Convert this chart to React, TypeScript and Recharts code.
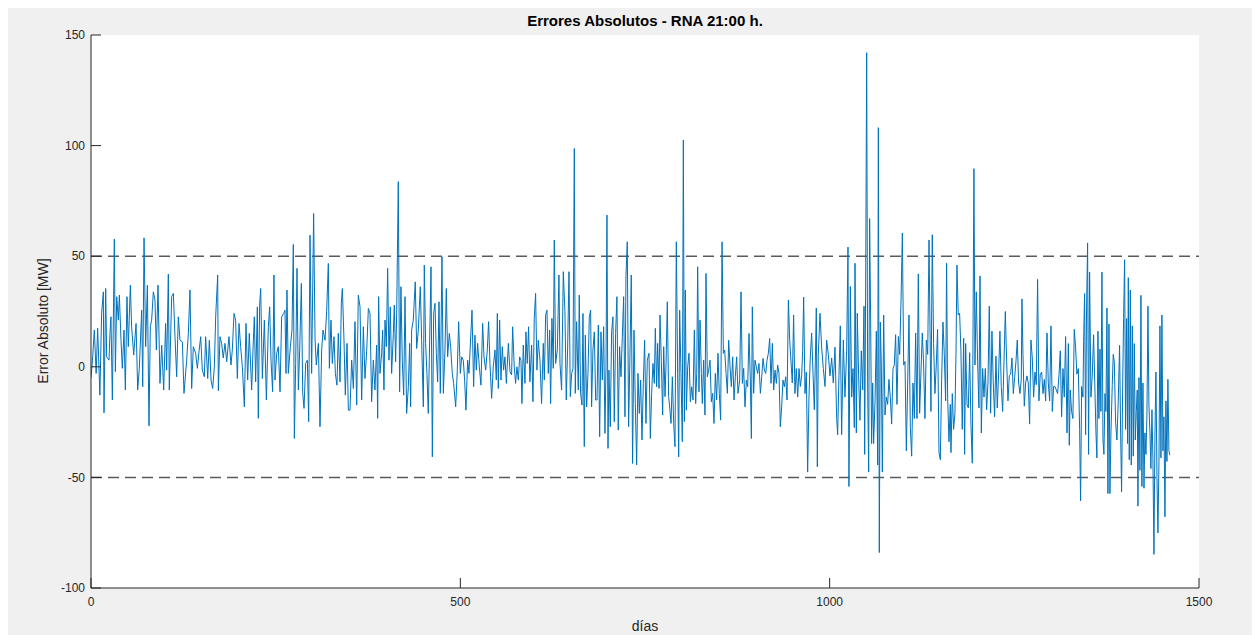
import { LineChart, Line, XAxis, YAxis, CartesianGrid, ReferenceLine } from "recharts";

const xTicks = [0, 500, 1000, 1500];
const yTicks = [-100, -50, 0, 50, 100, 150];
const limits = [50, -50];

// [día, error MW] in stretches of ~190 days
const segA = [
  [0, -5], [2, 3], [4.5, 16.6], [7, -3], [9, 17.4], [12, -12.8], [14.4, 24.1], [16.7, 33.9], [17.6, -20.8],
  [19.9, 35.4], [21.2, 4.5], [24.4, 3], [25.7, 15.1], [27, 22.6], [28.9, -15], [31.6, 57.7], [33, -2.2],
  [34.8, 31.7], [37, 21.1], [38.4, 32.4], [40.6, 12], [42.4, -0.7], [44.7, 16.6], [46.5, -10.5], [48.7, 31.7],
  [50.5, 9.1], [53.3, 36.9], [55, 18.1], [57.8, 5.3], [61, 19.6], [63.2, -10.5], [65.4, -0.7], [68.6, 25.6],
  [70, -9], [71.8, 58.3], [74, 9.1], [76.3, 36.9], [78.5, -26.7], [80.3, 18.1], [82.1, 21.1], [84.4, 33.9],
  [86.6, 30.2], [88.5, 7.6], [90.7, 36.9], [93.4, -7.5], [95.7, 9.8], [98.4, -10.5], [101, 19.6], [102.4, -1.5],
  [104.7, 41.9], [106, -10.5], [109.2, 31.7], [111.5, 33.2], [113.7, 13.6], [116, -4.5], [118.2, 22.6],
  [120.5, 12], [123.7, 11.3], [125.9, -12], [129.5, 3], [131.8, 15.1], [134, 34.7], [136.3, -9.8], [138.5, 9.1],
  [141.7, 6.1], [144, -0.7], [146.2, 6.8], [148.5, 13.6], [150.7, -1.5], [153.4, -4.5], [155.2, 13.6],
  [158, -5.3], [160.2, 12], [162.5, -6], [164.7, -9.8], [167, 0], [168.8, 22.6], [171.5, 41.5], [172.4, -10.8],
  [174.6, 13.6], [176.9, 10.6], [179, 4], [181.4, 10.6], [183.7, 2.3], [186.8, 13.6],
];

const segB = [
  [189.5, 0.8], [191.3, 7.5], [193.6, 24.1], [195.8, 21.1], [198.1, -5.3], [200.4, 19.6], [202.6, 9.1],
  [204.9, 0], [207.6, -18.1], [209.8, 19.6], [212.1, -6], [214.3, 15.1], [217.5, -10.5], [219.8, 12],
  [221.1, 22.6], [222.9, -6.8], [225.2, 27.1], [226.5, -23.3], [228.3, 27.9], [229.7, 35.4], [232, -5.3],
  [234.7, 21.1], [237.4, -15], [240.1, 18.1], [241.9, 27.1], [243.7, 3], [245.9, -11.3], [247.7, 41.5],
  [249.1, -6], [251.4, 6.1], [253.6, 9.1], [255.9, -11.3], [258.1, 22.6], [260.8, 24.1], [262.6, 25.6],
  [264, -3], [265.3, 34.7], [267.1, -3], [269.9, 9.1], [272.1, 16.6], [273.9, 55.3], [275.3, -32.4],
  [277.1, 1.5], [278.9, 44.5], [280.7, -10.5], [282.5, 7.6], [284.8, 37.7], [286.6, -12], [288.4, -18.8],
  [290.6, 1.5], [292.9, 3], [294.7, -24.8], [296.5, 59.5], [298.7, -3], [301.4, 69.3], [303.3, 12.8],
  [305, 0.8], [307.8, 10.6], [310, -27.1], [312.3, 7.6], [314.1, 16.6], [316.8, 12], [319, 24.9],
  [321.3, 46.7], [322.7, -0.7], [324.9, 21.1], [326.7, 1.5], [329, 13.6], [330.8, -3], [333, -8.3],
  [334.8, 15.1], [337.1, -6.8], [338.9, 28.7], [340.3, 35.4], [342.5, 12], [344.3, -12.8], [346.6, 10.6],
  [348.4, -19.6], [350.6, -19.6], [352.9, 3], [355.2, -9.8], [357.4, 20.4], [359.7, -17.3], [361.9, 32.4],
  [364.2, 27.1], [366.4, -15], [368.7, 18.1], [370.9, -5.3], [373.2, 6.8], [375.5, 26.4], [377.7, 24.1],
];

const segC = [
  [379.9, -15.8], [382.2, 3], [384.4, -10.5], [386.7, 9.8], [388.1, -23.3], [389.4, 31.7], [391.2, -3],
  [393.5, 6.1], [394.8, 16.6], [396.6, -10.5], [398, 21.1], [399.8, 9.1], [401.6, 44.5], [403.4, 3],
  [405.2, 27.1], [407, -3], [409.3, 15.1], [410.6, 27.9], [412.4, 2.3], [413.8, 23.4], [416, 83.7],
  [417.8, -11.3], [419.6, 36.2], [421.4, 3], [423.3, -12.8], [425.1, 31.7], [427.3, -21.1], [429.6, -9],
  [431.4, 10.6], [432.7, -18.1], [434.1, 16.6], [436.3, 21.1], [439, 38.4], [440.9, 8.3], [443.1, 16.6],
  [445.8, 36.2], [447.6, 12], [449.9, -18.1], [451.2, 46], [453, 10.6], [454.8, -3], [456.6, -21.1],
  [458, 3], [460.3, 45.2], [462.1, -40.7], [463.9, 24.1], [465.7, 28.7], [467.5, 6.1], [469.3, -6.8],
  [471.1, 29.4], [472.9, -12], [475.1, 49.7], [477, -12], [479.2, 7.6], [481, 35.4], [482.8, 4.5],
  [485.1, 15.1], [486.9, 9.1], [489.1, -3], [490.9, -7.5], [493.7, -18.1], [495.9, -1.5], [497.7, 20.4],
  [500, -3], [501.8, 4.5], [504, 3], [505.8, -6], [507.6, -19.6], [509.9, 3], [511.7, -3], [513.5, 9.8],
  [515.8, 25.6], [518, -9], [519.8, 14.3], [521.6, -1.5], [523.4, 10.6], [525.7, 0], [527.9, -8.3],
  [530.2, 19.6], [532, 4.5], [534.3, -1.5], [536.5, 7.6], [538.3, 20.4], [540.1, 1.5], [542.4, -14.3],
  [544.6, 0], [546.9, 7.6], [548.7, -6], [550.1, 24.1], [551.4, -9.8], [553.2, 21.1], [555, -6],
  [556.8, 9.1], [558.6, -1.5], [560.4, 4.5], [562.3, -7.5], [565, 10.6],
];

const segD = [
  [567.2, -2.2], [569.4, -3.7], [570.8, 18.1], [573, 0], [574.8, -7.5], [576.6, 0], [578.5, -6], [580.3, 4.5],
  [582.1, 3], [583.4, -16.6], [585.2, 9.8], [587.5, -7.5], [588.8, 15.8], [590.6, 1.5], [592.4, 18.1],
  [594.2, -6.8], [596.5, 9.8], [598.3, -15.8], [600.1, 21.9], [601.9, 33.2], [603.7, -1.5], [605.5, 12],
  [607.8, 3], [610, -16.6], [612.3, 10.6], [613.7, -6], [615.5, 23.4], [617.3, 25.6], [619.1, -3],
  [620.9, 16.6], [622.2, -16.6], [624, 21.9], [625.8, -0.7], [627.2, 57.3], [629, 1.5], [631.3, 7.6],
  [633.5, 41.5], [634.9, 1.5], [637.1, -10.5], [639.4, 43], [641.6, 24.9], [643.4, -15], [645.2, 7.6],
  [647.1, 43], [648.9, -13.5], [650.7, -3], [652.5, -0.7], [654.3, 98.7], [655.6, -12], [657.4, 20.4],
  [659.7, -10.5], [661, 32.4], [662.8, -12], [664.7, -17.3], [666, 24.1], [667.8, -36.1], [669.2, 14.3],
  [671, -18.1], [672.8, -3], [674.6, 22.6], [676.4, 25.6], [677.7, -18.1], [679.5, 7.6], [681.4, 15.8],
  [683.2, -15], [685, -15], [686.8, 18.9], [688.6, -31.6], [690.4, 15.8], [692.2, -6], [694, 18.1],
  [695.8, -30.1], [697.2, 0], [698.5, 68.6], [699.9, -36.9], [701.2, -1.5], [703, -27.1], [704.8, 15.8],
  [706.6, 22.6], [708.4, -24.8], [710.2, 15.1], [712, 31.7], [713.8, -28.6], [715.6, 9.1], [717.5, -4.5],
  [719.3, 13.6], [721.1, 31.7], [722.9, -22.6], [724.2, 40.7], [726, 56.5], [727.8, -27.1], [729.6, 4.5],
  [731.4, 41.5], [733.2, -43.7], [735.1, 16.6], [736.9, -16.6], [738.7, -44.4], [740.5, -3], [742.3, -21.1],
  [744.1, -6], [745.9, -33.1], [747.7, -7.5], [749.5, 12], [751.3, -25.6], [753.1, 3], [755.4, 6.1],
];

const segE = [
  [757.2, -32.4], [759, -12], [760.8, 1.5], [762.6, -7.5], [764, 17.4], [765.8, -9], [767.1, 10.6],
  [769, -9.8], [770.3, 23.4], [772.1, 3], [773.9, -21.8], [775.3, 9.1], [777.1, -13.5], [778.4, 0],
  [780.2, 29.4], [782, -13.5], [783.8, -19.6], [785.2, -25.6], [787, -4.5], [788.8, -25.6], [790.6, -36.1],
  [792.4, 56.5], [794.2, -3], [795.6, -40.7], [796.9, 25.6], [798.7, -3], [800.5, -33.9], [801.9, 102.5],
  [803.3, -24.8], [804.6, 34.7], [806, -19.6], [807.8, 0], [809.6, 6.1], [811.4, -15.8], [813.2, -9],
  [815, -15], [816.8, 16.6], [818.6, -16.6], [820, -3], [821.3, 45.2], [823.1, -11.3], [824.5, 21.1],
  [826.3, -3], [827.6, -16.6], [829.4, 3], [831.2, -21.8], [832.6, 42.2], [834.4, -4.5], [836.2, -1.5],
  [838, 3], [839.8, -15.8], [841.6, -12], [843.4, -25.6], [845.2, -3], [847, -15], [848.8, 6.1],
  [850.6, -12], [852.4, -24.1], [854.3, 56.5], [856.1, 6.1], [857.9, 7.6], [859.7, -3], [861.5, -12],
  [863.3, 12], [865.1, 0], [866.9, -9], [868.7, 4.5], [870.5, -15], [872.3, -4.5], [874.1, 4.5],
  [875.9, -12], [878.2, -6], [880, 33.9], [881.8, -7.5], [883.6, -0.7], [885.4, -18.1], [887.2, -6],
  [889, -9], [890.8, 15.1], [892.6, -6], [894, -32.4], [895.3, 27.1], [897.1, -12], [898.9, 3], [900.7, 0],
  [902.5, -3], [904.3, 1.5], [906.2, -12], [908, -4.5], [909.8, 3.8], [911.6, -1.5], [913.4, -3],
  [915.2, 3], [917, 6.1], [918.8, 12.8], [920.6, -7.5], [922.4, 10.6], [924.2, -10.5], [926, -1.5],
  [927.8, -7.5], [929.6, 0.8], [931.4, -3], [933.2, -27.1], [935, -18.1], [936.8, -6], [938.6, -9],
  [940.5, -4.5], [942.3, -15], [944.1, 30.2], [945.9, 12],
];

const segF = [
  [949.4, -7.3], [951.2, 23.4], [953, -12.1], [954.8, -0.8], [956.7, -13.7], [958.5, -0.8], [960.3, -8.9],
  [962.1, -4.1], [963.4, 7.2], [964.8, 31.5], [966.6, -12.1], [968.4, -2.4], [970.2, -47.6], [972, -13.7],
  [973.8, 4.8], [975.6, 15.3], [977.4, -2.4], [979.2, -19.4], [980.6, 2.4], [981.9, 26.6], [983.3, -45.2],
  [984.6, 5.6], [986.9, 24.2], [989.1, 8.9], [991.4, -0.8], [993.7, -8.9], [995.9, 12.1], [998.2, 5.6],
  [1000.4, -4.1], [1002.7, 4], [1004.9, -7.3], [1007.2, 8.9], [1009.5, -23.4], [1010.8, -30.7],
  [1012.6, -4.1], [1014.4, 18.5], [1016.2, -30.7], [1018.5, 12.1], [1020.7, -13.7], [1023, 7.2],
  [1024.8, 54.1], [1026.1, -54.1], [1028, 36.3], [1029.8, -13.7], [1031.6, -0.8], [1033.4, -27.5],
  [1034.3, 46.8], [1036.1, -29.9], [1037.4, 24.2], [1039.2, -4.1], [1041, -24.2], [1042.8, 7.2],
  [1044.7, -10.5], [1046.5, 27.4], [1047.4, -39.6], [1048.7, 34.7], [1050.1, 142], [1051.4, -7.3],
  [1052.8, -47.6], [1054.1, 67], [1055.5, 20.2], [1056.8, -34.7], [1058.2, -7.3], [1059.5, -34.7],
  [1061.4, -15.4], [1063.2, 16.1], [1065, -44.4], [1065.9, 108.1], [1067.2, -84], [1068.6, 20.2],
  [1069.9, 0.8], [1071.3, -47.6], [1073.1, 23.4], [1074.9, -21.8], [1076.7, -13.7], [1078.5, -17],
  [1080.3, -5.7], [1082.1, -13.7], [1083.9, -25.9], [1085.7, -0.8], [1087.5, 0.8], [1089.3, 14.5],
  [1091.1, -17], [1093, 13.7], [1094.8, 5.6], [1096.6, 29.8], [1098.4, 60.5], [1100.2, 0.8], [1102, 2.4],
  [1103.8, -38], [1105.6, -7.3], [1107.4, 23.4], [1109.2, -27.5], [1111, -40.4], [1112.8, -7.3],
  [1114.6, -23.4], [1116.4, 15.3], [1118.2, -23.4], [1120, 42], [1121.8, -21], [1123.6, -2.4],
  [1125.4, 15.3], [1127.2, 0.8], [1129, -23.4], [1130.9, 12.1], [1132.7, 5.6], [1134.5, 57.3],
];

const segG = [
  [1137.1, -20.2], [1138.9, 59.7], [1140.7, 10.5], [1142.5, -12.1], [1144.3, 0.8], [1146.1, 16.9],
  [1148, -38.8], [1149.8, -42], [1151.6, -5.7], [1153.4, 20.2], [1155.2, 5.6], [1157, -15.4], [1158.3, 46.8],
  [1159.7, -13.7], [1161.5, -33.9], [1163.3, -17], [1164.2, -38.8], [1166, -12.1], [1167.8, -28.3],
  [1169.6, -21], [1171, 5.6], [1172.3, 46], [1174.1, 23.4], [1175.9, 24.2], [1177.7, 7.2], [1179.5, -28.3],
  [1181.4, 12.9], [1182.7, -39.6], [1184.1, 10.5], [1185.9, -17], [1187.7, -18.6], [1189.5, 6.4],
  [1191.3, -26.7], [1193.1, -43.6], [1195.3, 89.6], [1196.7, 0.8], [1198.5, 33.9], [1200.3, 2.4],
  [1202.1, -18.6], [1203.5, 41.1], [1205.3, -29.9], [1207.1, -0.8], [1208.9, -13.7], [1210.7, -0.8],
  [1212.5, -19.4], [1214.3, -7.3], [1216.1, 27.4], [1217.9, -21], [1219.7, 16.1], [1221.5, -7.3],
  [1223.3, -22.6], [1225.1, 4.8], [1226.9, -18.6], [1228.7, -3.3], [1230.5, 16.1], [1232.3, -8.9],
  [1234.2, -20.2], [1236, 2.4], [1237.8, 25], [1239.6, 2.4], [1241.4, -15.4], [1243.2, -4.1], [1245, -3.3],
  [1246.8, 4], [1248.6, -12.1], [1250.4, -4.9], [1252.2, 2.4], [1254, 12.1], [1255.8, -7.3], [1257.6, -12.1],
  [1259.4, -5.7], [1260.3, 30.7], [1261.7, 5.6], [1263.5, -17.8], [1265.3, -7.3], [1267.1, -4.1],
  [1268.9, -7.3], [1270.7, -25.9], [1272.5, 12.1], [1274.3, 4], [1276.1, -13.7], [1277.9, -2.4],
  [1279.7, -8.1], [1281.5, 39.5], [1283.3, -15.4], [1285.1, -3.3], [1287, -2.4], [1288.8, -12.1],
  [1290.6, -5.7], [1292.4, -15.4], [1294.2, 15.3], [1296, -7.3], [1297.8, -15.4], [1299.6, 18.5],
  [1301.4, -20.2], [1303.2, -8.9], [1305, -8.9], [1306.8, -10.5], [1308.6, -12.1], [1310.4, -4.1],
  [1312.2, 7.2], [1314, -22.6], [1315.8, -0.8], [1317.6, -13.7], [1319.4, 13.7], [1321.3, -29.9],
  [1323.1, 10.5], [1324.4, -35.5],
];

const segH = [
  [1325.7, -10.5], [1327.5, -20.2], [1329.3, -23.4], [1331.1, 16.9], [1332.9, 8.9], [1334.7, -3.3],
  [1336.6, -0.8], [1338.4, -28.3], [1339.7, -60.6], [1341.1, -8.9], [1342.9, -13.7], [1343.8, 11.3],
  [1345.1, 33.1], [1346.5, -30.7], [1347.8, 26.6], [1349.2, 56], [1350.5, -39.6], [1351.9, 42.8],
  [1353.7, -13.7], [1355.5, -4.1], [1357.3, 14.5], [1359.1, -10.5], [1360.5, -29.9], [1361.8, -41.2],
  [1363.2, 16.1], [1364.5, -23.4], [1365.9, 8], [1367.2, -20.2], [1368.6, 42.8], [1370, -33.1],
  [1371.3, -39.6], [1372.7, -12.1], [1374, -20.2], [1375.4, 26.6], [1376.7, -57.3], [1378.1, 19.3],
  [1379.4, -57.3], [1380.8, -29.9], [1382.6, -8.1], [1383.9, 5.6], [1385.3, 2.4], [1387.1, -25.1],
  [1388.9, -33.1], [1390.7, -15.4], [1392.5, 9.7], [1393.9, -29.9], [1395.2, -56.5], [1396.6, -10.5],
  [1397.9, 21.8], [1399.3, 48.4], [1400.6, -28.3], [1402, 21.8], [1403.3, -34.7], [1404.3, 40.3],
  [1405.6, -42], [1407, 34.7], [1408.3, -44.4], [1409.7, 18.5], [1411, -40.4], [1412.4, 10.5],
  [1413.7, -33.1], [1415.1, -20.2], [1416.4, -10.5], [1417.3, -63], [1418.7, -4.9], [1420, -46.8],
  [1421.4, 32.3], [1422.7, -54.1], [1424.1, -7.3], [1425.5, -54.9], [1426.8, -29.9], [1428.2, -39.6],
  [1429.5, -21.8], [1430.9, 27.4], [1432.2, -17], [1433.6, -29.9], [1434.9, -46], [1436.3, -19.4],
  [1437.6, -41.2], [1439, -84.8], [1440.4, -29.9], [1441.7, -2.4], [1443.1, -50.1], [1444.4, -75.1],
  [1445.8, -42.8], [1447.1, 18.5], [1448.5, -41.2], [1449.8, 23.4], [1451.2, -38], [1452.5, -22.6],
  [1453.9, -67.8], [1455.2, -15.4], [1456.6, -42.8], [1457.9, -5.7], [1459.3, -38], [1460.5, -40],
];

const data = [...segA, ...segB, ...segC, ...segD, ...segE, ...segF, ...segG, ...segH].map(([dia, error]) => ({
  dia,
  error,
}));

const INK = "#262626";
const TICK = 10;
const XGAP = 9;
const YGAP = 6;
const FONT = "Arial, 'Liberation Sans', Helvetica, sans-serif";

// ticks point inwards, like the original box axes
const BottomTick = ({ x, y, payload }: any) => (
  <g>
    <line x1={x} x2={x} y1={y - XGAP} y2={y - XGAP - TICK} stroke={INK} />
    <text x={x} y={y} dy="0.71em" textAnchor="middle" fill={INK} fontSize={12} fontFamily={FONT}>
      {payload.value}
    </text>
  </g>
);
const TopTick = ({ x, y }: any) => <line x1={x} x2={x} y1={y} y2={y + TICK} stroke={INK} />;
const LeftTick = ({ x, y, payload }: any) => (
  <g>
    <line x1={x + YGAP} x2={x + YGAP + TICK} y1={y} y2={y} stroke={INK} />
    <text x={x} y={y} dy="0.355em" textAnchor="end" fill={INK} fontSize={12} fontFamily={FONT}>
      {payload.value}
    </text>
  </g>
);
const RightTick = ({ x, y }: any) => <line x1={x} x2={x - TICK} y1={y} y2={y} stroke={INK} />;

export default function App() {
  return (
    <div style={{ position: "relative", width: 1244, height: 627, background: "#f0f0f0", fontFamily: FONT }}>
      <div
        style={{
          position: "absolute",
          left: 83,
          width: 1108,
          top: 4,
          textAlign: "center",
          fontSize: 15,
          fontWeight: "bold",
          lineHeight: "18px",
          color: "#000",
        }}
      >
        Errores Absolutos - RNA 21:00 h.
      </div>
      <LineChart width={1244} height={627} data={data} margin={{ top: 27, right: 53, bottom: 17, left: 23 }}>
        <CartesianGrid horizontal={false} vertical={false} fill="#ffffff" />
        <XAxis
          dataKey="dia"
          type="number"
          domain={[0, 1500]}
          ticks={xTicks}
          interval={0}
          allowDataOverflow
          height={30}
          tickSize={0}
          tickMargin={XGAP}
          stroke={INK}
          tick={(p: any) => <BottomTick {...p} />}
        />
        <XAxis
          xAxisId="top"
          orientation="top"
          dataKey="dia"
          type="number"
          domain={[0, 1500]}
          ticks={xTicks}
          interval={0}
          allowDataOverflow
          height={0}
          tickSize={0}
          tickMargin={0}
          stroke={INK}
          tick={(p: any) => <TopTick {...p} />}
        />
        <YAxis
          type="number"
          domain={[-100, 150]}
          ticks={yTicks}
          interval={0}
          allowDataOverflow
          width={60}
          tickSize={0}
          tickMargin={YGAP}
          stroke={INK}
          tick={(p: any) => <LeftTick {...p} />}
        />
        <YAxis
          yAxisId="right"
          orientation="right"
          type="number"
          domain={[-100, 150]}
          ticks={yTicks}
          interval={0}
          allowDataOverflow
          width={0}
          tickSize={0}
          tickMargin={0}
          stroke={INK}
          tick={(p: any) => <RightTick {...p} />}
        />
        {limits.map((v) => (
          <ReferenceLine key={v} y={v} stroke="#5a5a5a" strokeWidth={1.5} strokeDasharray="11 6" />
        ))}
        <Line
          dataKey="error"
          type="linear"
          stroke="#0072BD"
          strokeWidth={1}
          dot={false}
          isAnimationActive={false}
        />
      </LineChart>
      <div
        style={{
          position: "absolute",
          left: 35,
          top: 313,
          transform: "translate(-50%, -50%) rotate(-90deg)",
          whiteSpace: "nowrap",
          fontSize: 14,
          color: INK,
        }}
      >
        Error Absoluto [MW]
      </div>
      <div
        style={{
          position: "absolute",
          left: 83,
          width: 1108,
          top: 609,
          textAlign: "center",
          fontSize: 14,
          lineHeight: "18px",
          color: INK,
        }}
      >
        días
      </div>
    </div>
  );
}
